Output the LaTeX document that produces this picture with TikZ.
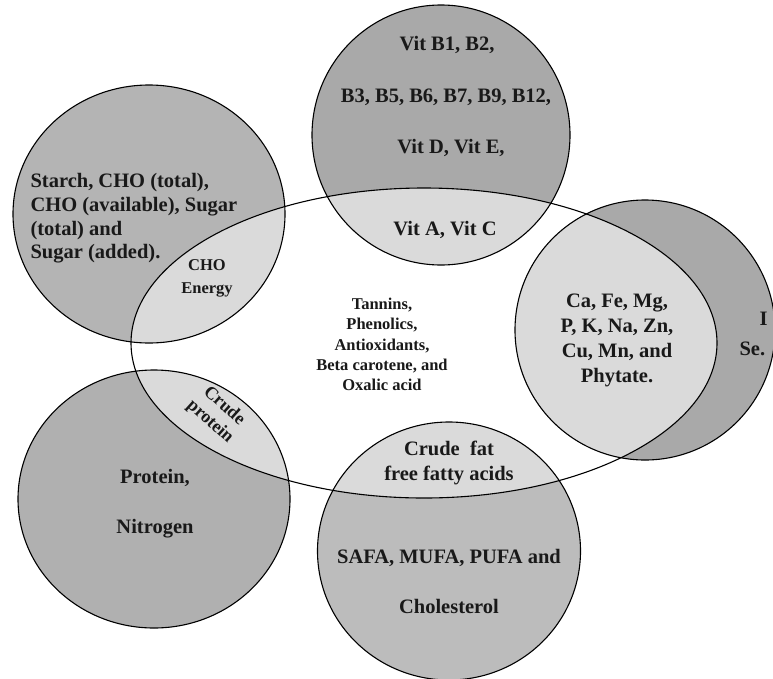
\documentclass[tikz,border=0pt]{standalone}
\usepackage{fontspec}
\setmainfont{Liberation Serif}
\begin{document}
\begin{tikzpicture}[x=1pt,y=-1pt,line width=1.1pt,
  big/.style={font=\fontsize{20.5}{24}\selectfont\bfseries,inner sep=0pt,anchor=base,text=black!90},
  small/.style={font=\fontsize{16.5}{20}\selectfont\bfseries,inner sep=0pt,anchor=base,text=black!90},
  rotlbl/.style={font=\fontsize{18}{21}\selectfont\bfseries,inner sep=0pt,anchor=center,rotate=-42,align=center,text=black!90}]
\definecolor{gTop}{HTML}{A9A9A9}
\definecolor{gLeft}{HTML}{B4B4B4}
\definecolor{gRight}{HTML}{A9A9A9}
\definecolor{gBL}{HTML}{B0B0B0}
\definecolor{gBC}{HTML}{BCBCBC}
\definecolor{gLight}{HTML}{DADADA}
\useasboundingbox (0,0) rectangle (773,678);
% circle fills
\fill[gTop]   (441,135) ellipse [x radius=129,y radius=130];
\fill[gLeft]  (149,214) ellipse [x radius=136,y radius=129];
\fill[gRight] (645,330) ellipse [x radius=130,y radius=130];
\fill[gBL]    (154,499) ellipse [x radius=136,y radius=129];
\fill[gBC]    (449,551) ellipse [x radius=131.5,y radius=129];
% intersections with central ellipse
\begin{scope}
  \clip (424,343) ellipse [x radius=293,y radius=155];
  \fill[white] (424,343) ellipse [x radius=293,y radius=155];
  \fill[gLight] (441,135) ellipse [x radius=129,y radius=130];
  \fill[gLight] (149,214) ellipse [x radius=136,y radius=129];
  \fill[gLight] (645,330) ellipse [x radius=130,y radius=130];
  \fill[gLight] (154,499) ellipse [x radius=136,y radius=129];
  \fill[gLight] (449,551) ellipse [x radius=131.5,y radius=129];
\end{scope}
% outlines
\draw (441,135) ellipse [x radius=129,y radius=130];
\draw (149,214) ellipse [x radius=136,y radius=129];
\draw (645,330) ellipse [x radius=130,y radius=130];
\draw (154,499) ellipse [x radius=136,y radius=129];
\draw (449,551) ellipse [x radius=131.5,y radius=129];
\draw (424,343) ellipse [x radius=293,y radius=155];
% top circle text
\node[big] (v1) at (447,50) {Vit B1, B2,};
\node[big] (v2) at (446,102) {B3, B5, B6, B7, B9, B12,};
\node[big] (v3) at (451,153) {Vit D, Vit E,};
\node[big] (v4) at (445,235) {Vit A, Vit C};
% left circle text
\node[big,anchor=base west] (c1) at (30,187) {Starch, CHO (total),};
\node[big,anchor=base west] (c2) at (30,211) {CHO (available), Sugar};
\node[big,anchor=base west] (c3) at (30,235) {(total) and};
\node[big,anchor=base west] (c4) at (30,258) {Sugar (added).};
\node[small] (e1) at (207,270) {CHO};
\node[small] (e2) at (207,293) {Energy};
% centre text
\node[small] (t1) at (382,309) {Tannins,};
\node[small] (t2) at (382,329) {Phenolics,};
\node[small] (t3) at (382,350) {Antioxidants,};
\node[small] (t4) at (382,370) {Beta carotene, and};
\node[small] (t5) at (382,390) {Oxalic acid};
% right circle text
\node[big] (m1) at (617,307) {Ca, Fe, Mg,};
\node[big] (m2) at (617,332) {P, K, Na, Zn,};
\node[big] (m3) at (617,357) {Cu, Mn, and};
\node[big] (m4) at (617,382) {Phytate.};
\node[big,anchor=base west] (i1) at (759,325) {I};
\node[big,anchor=base west] (i2) at (739,355) {Se.};
% crude protein
\node[rotlbl] (cp) at (217,414) {Crude\\protein};
% bottom-left text
\node[big] (p1) at (155,483) {Protein,};
\node[big] (p2) at (155,533) {Nitrogen};
% bottom centre text
\node[big] (f1) at (449,455) {Crude\ \ fat};
\node[big] (f2) at (449,480) {free fatty acids};
\node[big] (f3) at (449,563) {SAFA, MUFA, PUFA and};
\node[big] (f4) at (449,613) {Cholesterol};
\end{tikzpicture}
\end{document}
